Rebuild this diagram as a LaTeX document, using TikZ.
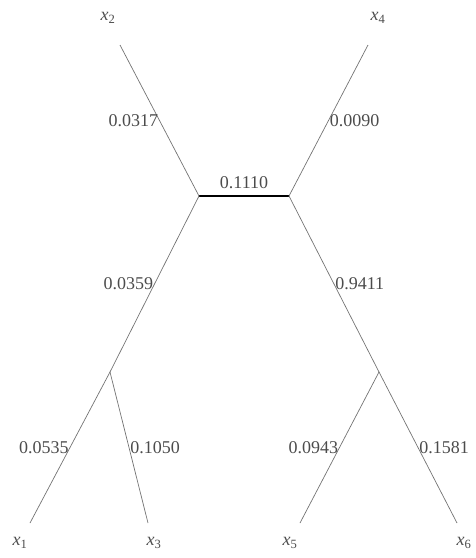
\documentclass[tikz,border=0pt]{standalone}
\usepackage{fontspec}
\setmainfont{Liberation Serif}
\begin{document}
\begin{tikzpicture}[x=1pt, y=-1pt,
    galaz/.style={black!55, line width=0.7pt},
    srodek/.style={black, line width=1.3pt},
    waga/.style={text=black!70, font=\fontsize{18}{20}\selectfont, inner sep=1pt},
    lisc/.style={text=black!70, font=\fontsize{18}{20}\selectfont, inner sep=1pt}]
    \useasboundingbox (0,0) rectangle (476,558);

    % Wezly wewnetrzne
    \coordinate (A) at (199,196);
    \coordinate (B) at (289,196);
    \coordinate (C) at (110,372);
    \coordinate (D) at (379,372);

    % Konce lisci
    \coordinate (k2) at (120,45);
    \coordinate (k4) at (368,45);
    \coordinate (k1) at (30,523);
    \coordinate (k3) at (148,523);
    \coordinate (k5) at (300,523);
    \coordinate (k6) at (457,523);

    % Etykiety lisci
    \node[lisc] (x2) at (108,18) {\textit{x}\textsubscript{2}};
    \node[lisc] (x4) at (378,18) {\textit{x}\textsubscript{4}};
    \node[lisc] (x1) at (20,543) {\textit{x}\textsubscript{1}};
    \node[lisc] (x3) at (154,543) {\textit{x}\textsubscript{3}};
    \node[lisc] (x5) at (290,543) {\textit{x}\textsubscript{5}};
    \node[lisc] (x6) at (464,543) {\textit{x}\textsubscript{6}};

    % Galezie z wagami
    \draw[srodek] (A) -- (B) node[midway, waga, above=6pt] {0.1110};
    \draw[galaz] (k2) -- (A) node[pos=0.5, waga, anchor=east] {0.0317};
    \draw[galaz] (k4) -- (B) node[pos=0.5, waga, anchor=west] {0.0090};
    \draw[galaz] (A) -- (C) node[pos=0.5, waga, anchor=east] {0.0359};
    \draw[galaz] (B) -- (D) node[pos=0.5, waga, anchor=west] {0.9411};
    \draw[galaz] (C) -- (k1) node[pos=0.5, waga, anchor=east] {0.0535};
    \draw[galaz] (C) -- (k3) node[pos=0.5, waga, anchor=west] {0.1050};
    \draw[galaz] (D) -- (k5) node[pos=0.5, waga, anchor=east] {0.0943};
    \draw[galaz] (D) -- (k6) node[pos=0.5, waga, anchor=west] {0.1581};
\end{tikzpicture}
\end{document}
